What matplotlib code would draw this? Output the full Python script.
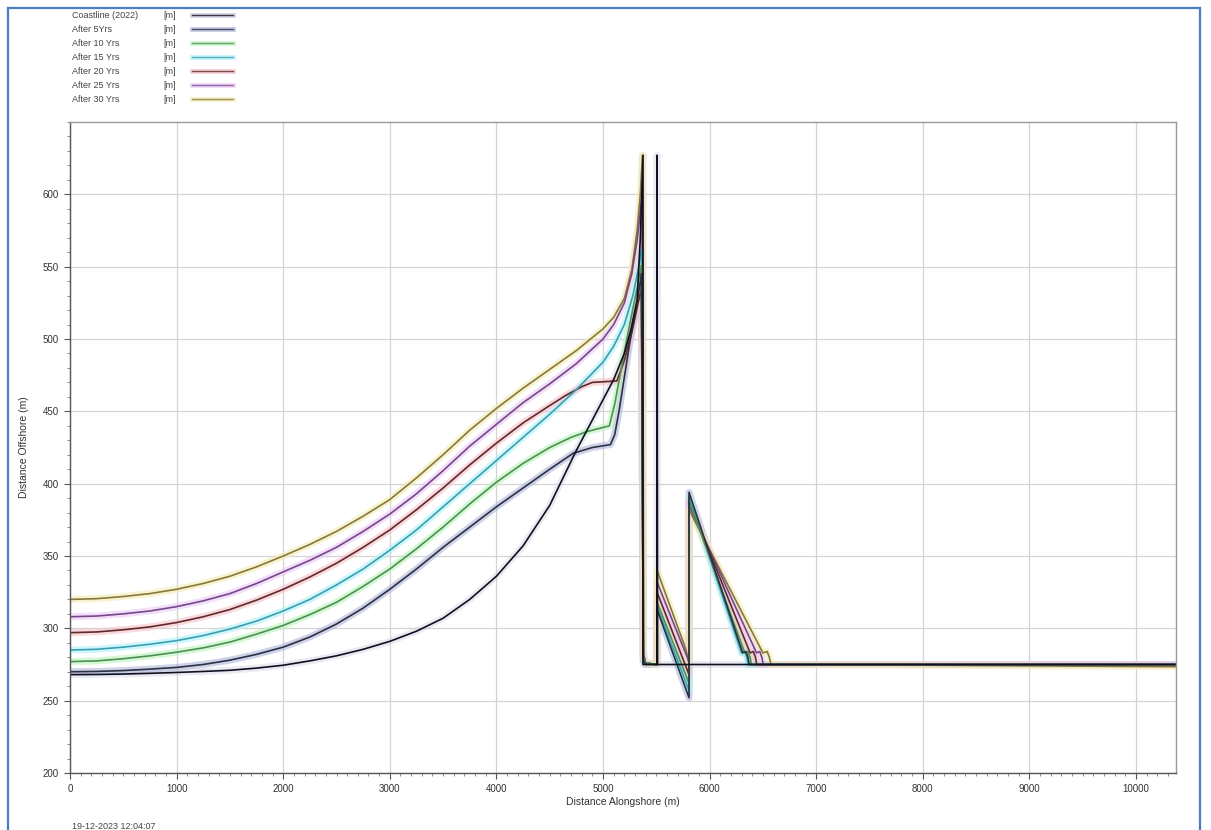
import matplotlib

matplotlib.use("Agg")
import matplotlib.pyplot as plt
from matplotlib.lines import Line2D
from matplotlib.ticker import MultipleLocator

plt.rcParams["font.family"] = ["Liberation Sans", "DejaVu Sans"]

W, H = 1211, 830

series_names = [
    "Coastline (2022)",
    "After 5Yrs",
    "After 10 Yrs",
    "After 15 Yrs",
    "After 20 Yrs",
    "After 25 Yrs",
    "After 30 Yrs",
]
series_unit = "[m]"
core_colors = ["#101020", "#2c3040", "#4e8f55", "#3a9fb0", "#5e2a2a", "#74488a", "#86783e"]
halo_colors = ["#c4c4dc", "#b0b6dc", "#b8f4b8", "#b0f0f8", "#f6c0c8", "#ecc8f6", "#f4ecb0"]
halo_alpha = [0.35, 0.6, 0.6, 0.6, 0.6, 0.6, 0.6]

# alongshore stations shared by the smooth part of every profile
base_x = [0, 250, 500, 750, 1000, 1250, 1500, 1750, 2000, 2250, 2500, 2750,
          3000, 3250, 3500, 3750, 4000, 4250, 4500]

# shoreline position (distance offshore) per simulated year
coast_y0 = [268, 268.1, 268.4, 268.9, 269.5, 270.2, 271, 272.5, 274.5, 277.5, 281, 285.5,
            291, 298, 307, 320, 336, 357, 385]
coast_xs = [4750, 5000, 5100, 5200, 5260, 5320, 5350, 5375, 5375, 5507, 5507, 5512, 10375]
coast_ys = [423, 458, 472, 490, 506, 527, 570, 627, 275, 275, 627, 275, 275]

yr5_y0 = [270, 270.2, 270.8, 271.8, 273, 275, 278, 282, 287, 294, 303, 314,
          327, 341, 356, 370, 384, 397, 410]
yr5_xs = [4720, 4900, 5070, 5110, 5150, 5250, 5320, 5360, 5378, 5400, 5507, 5507, 5807,
          5807, 6310, 6340, 6360, 6372, 10375]
yr5_ys = [421, 425, 427, 434, 450, 497, 525, 545, 278, 275, 275, 313, 252,
          394, 283, 284, 280, 275, 275]

yr10_y0 = [277, 277.5, 279, 281, 283.5, 286.5, 290.5, 296, 302, 309.5, 318, 329,
           341, 355, 370, 386, 401, 414, 425]
yr10_xs = [4700, 4850, 5060, 5110, 5160, 5250, 5320, 5360, 5378, 5400, 5507, 5507, 5807,
           5807, 6330, 6360, 6380, 6392, 10375]
yr10_ys = [432, 436, 440, 455, 475, 510, 535, 551, 279, 276, 275, 318, 262,
           388, 283, 284, 280, 275, 275]

yr15_y0 = [285, 285.5, 287, 289, 291.5, 295, 299.5, 305, 312, 320, 330, 341,
           354, 368, 384, 400, 416, 432, 448]
yr15_xs = [4750, 5000, 5100, 5200, 5280, 5330, 5360, 5378, 5400, 5507, 5507, 5807,
           5807, 6300, 6330, 6350, 6362, 10375]
yr15_ys = [465, 484, 495, 510, 530, 548, 562, 280, 276, 275, 315, 257,
           391, 283, 284, 280, 275, 275]

yr20_y0 = [297, 297.5, 299, 301, 304, 308, 313, 319.5, 327, 335.5, 345, 356,
           368, 382, 397, 413, 428, 442, 454]
yr20_xs = [4650, 4800, 4900, 5130, 5200, 5280, 5330, 5360, 5378, 5400, 5507, 5507, 5807,
           5807, 6380, 6410, 6430, 6442, 10375]
yr20_ys = [461, 467, 470, 471, 485, 508, 525, 535, 281, 276, 275, 325, 268,
           388, 283, 284, 280, 275, 275]

yr25_y0 = [308, 308.5, 310, 312, 315, 319, 324, 331, 339, 347, 356, 367,
           379, 393, 409, 426, 441, 456, 469]
yr25_xs = [4750, 5000, 5100, 5200, 5270, 5320, 5365, 5380, 5400, 5507, 5507, 5790, 5807,
           5807, 6440, 6470, 6490, 6502, 10375]
yr25_ys = [483, 500, 510, 525, 545, 568, 598, 282, 276, 275, 332, 280, 276,
           385, 283, 284, 280, 275, 275]

yr30_y0 = [320, 320.5, 322, 324, 327, 331, 336, 342.5, 350, 358, 367, 377.5,
           389, 404, 420, 437, 452, 466, 479]
yr30_xs = [4750, 5000, 5100, 5200, 5270, 5320, 5350, 5370, 5382, 5400, 5507, 5507, 5770,
           5800, 5807, 5807, 6500, 6540, 6560, 6575, 8000, 10375]
yr30_ys = [492, 507, 515, 528, 548, 575, 600, 627, 282, 276, 275, 340, 287,
           279, 276, 382, 283, 284, 280, 275, 274.5, 273.5]

profiles = [
    (coast_y0, coast_xs, coast_ys),
    (yr5_y0, yr5_xs, yr5_ys),
    (yr10_y0, yr10_xs, yr10_ys),
    (yr15_y0, yr15_xs, yr15_ys),
    (yr20_y0, yr20_xs, yr20_ys),
    (yr25_y0, yr25_xs, yr25_ys),
    (yr30_y0, yr30_xs, yr30_ys),
]

x_ticks = list(range(0, 10001, 1000))
y_ticks = list(range(200, 601, 50))

fig = plt.figure(figsize=(W / 100, H / 100), dpi=100)
ax = fig.add_axes([70 / W, 1 - 773 / H, (1176 - 70) / W, (773 - 122) / H])

lines = [(base_x + xs, y0 + ys) for y0, xs, ys in profiles]

# pale colour fringe under each line, then the line itself (coastline on top)
for (xs, ys), halo, a in zip(lines, halo_colors, halo_alpha):
    ax.plot(xs, ys, color=halo, lw=5.0, alpha=a, solid_joinstyle="round")
for i in [6, 5, 4, 3, 2, 1, 0]:
    xs, ys = lines[i]
    ax.plot(xs, ys, color=core_colors[i], lw=1.2, solid_joinstyle="round")

ax.set_xlim(0, 10375)
ax.set_ylim(200, 650)
ax.set_xticks(x_ticks)
ax.set_yticks(y_ticks)
ax.xaxis.set_minor_locator(MultipleLocator(100))
ax.yaxis.set_minor_locator(MultipleLocator(10))
ax.tick_params(which="major", direction="out", length=4, width=0.8, colors="#555555",
               labelsize=7, labelcolor="#333333", pad=4)
ax.tick_params(which="minor", direction="out", length=2, width=0.6, colors="#777777")
ax.grid(True, which="major", color="#d4d4d4", lw=0.9)
ax.set_axisbelow(True)
for side in ["top", "right"]:
    ax.spines[side].set_color("#9a9a9a")
    ax.spines[side].set_linewidth(1.0)
for side in ["left", "bottom"]:
    ax.spines[side].set_color("#555555")
    ax.spines[side].set_linewidth(1.0)

ax.set_xlabel("Distance Alongshore (m)", fontsize=7.5, color="#333333", labelpad=2)
ax.set_ylabel("Distance Offshore (m)", fontsize=7.5, color="#333333", labelpad=10)

# legend block above the axes
for i, name in enumerate(series_names):
    yy = 1 - (15 + 14 * i) / H
    fig.text(72 / W, yy, name, fontsize=6.5, color="#444444", va="center", ha="left")
    fig.text(163 / W, yy, series_unit, fontsize=6.5, color="#444444", va="center", ha="left")
    fig.add_artist(Line2D([192 / W, 233 / W], [yy, yy], color=halo_colors[i], lw=3.5,
                          alpha=0.7, transform=fig.transFigure))
    fig.add_artist(Line2D([192 / W, 233 / W], [yy, yy], color=core_colors[i], lw=1.0,
                          alpha=0.8, transform=fig.transFigure))

fig.text(72 / W, 1 - 826 / H, "19-12-2023 12:04:07", fontsize=6.5, color="#444444",
         va="center", ha="left")

# page border
border = "#4a7ec0"
fig.add_artist(Line2D([8 / W, 8 / W], [0, 1 - 8 / H], color=border, lw=1.6,
                      transform=fig.transFigure))
fig.add_artist(Line2D([8 / W, 1200 / W], [1 - 8 / H, 1 - 8 / H], color=border, lw=1.6,
                      transform=fig.transFigure))
fig.add_artist(Line2D([1200 / W, 1200 / W], [0, 1 - 8 / H], color=border, lw=1.6,
                      transform=fig.transFigure))

fig.savefig("out.png", dpi=100)
